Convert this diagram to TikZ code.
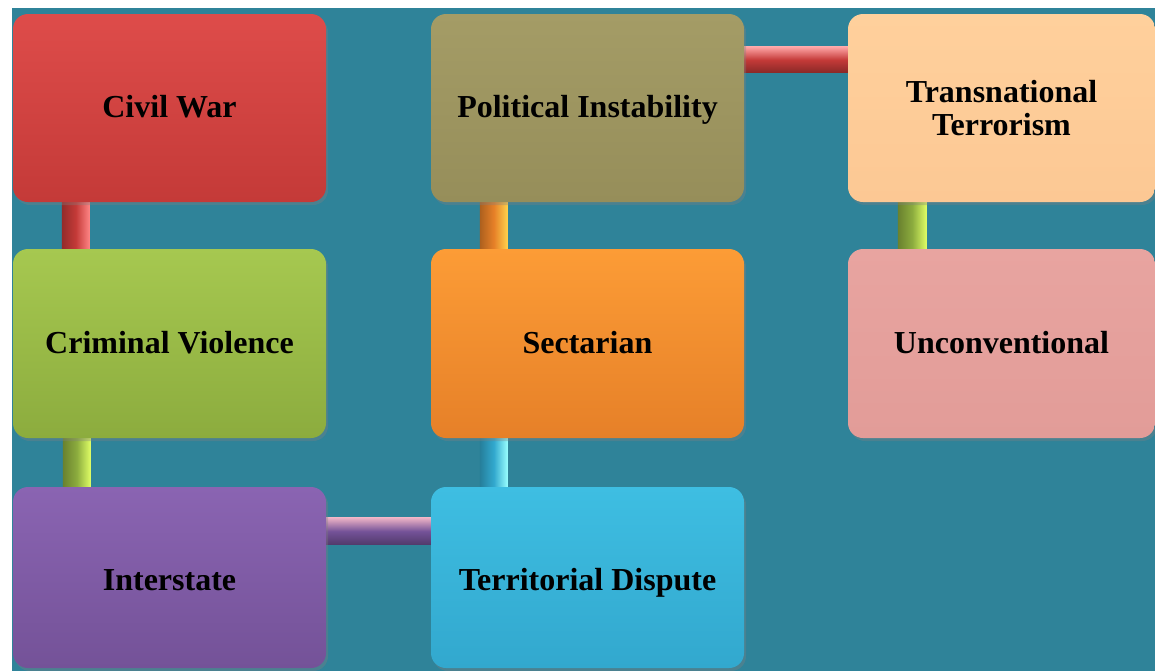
\documentclass[tikz,border=0pt]{standalone}
\usepackage{fontspec}
\setmainfont{Liberation Serif}
\usetikzlibrary{calc,shadows}
\pgfdeclarelayer{back}
\pgfsetlayers{back,main}
\definecolor{bgteal}{RGB}{47,131,153}
\definecolor{redT}{RGB}{222,76,74}\definecolor{redB}{RGB}{196,58,56}
\definecolor{oliveT}{RGB}{164,156,102}\definecolor{oliveB}{RGB}{150,142,90}
\definecolor{peachT}{RGB}{255,208,156}\definecolor{peachB}{RGB}{252,200,148}
\definecolor{greenT}{RGB}{166,200,80}\definecolor{greenB}{RGB}{140,172,62}
\definecolor{orangeT}{RGB}{252,156,54}\definecolor{orangeB}{RGB}{230,128,40}
\definecolor{pinkT}{RGB}{232,164,160}\definecolor{pinkB}{RGB}{226,156,152}
\definecolor{purpleT}{RGB}{138,100,178}\definecolor{purpleB}{RGB}{116,82,152}
\definecolor{cyanT}{RGB}{62,190,226}\definecolor{cyanB}{RGB}{50,168,206}
\tikzset{
  box/.style={rounded corners=15pt, minimum width=313pt, minimum height=188pt,
    align=center, inner sep=0pt, font=\fontsize{32}{33}\selectfont\bfseries,
    drop shadow={opacity=0.35, shadow xshift=2pt, shadow yshift=-3pt}},
  oneline/.style={text height=26pt, text depth=7pt},
  lowline/.style={text height=32pt, text depth=7pt},
  tubeV/.style 2 args={left color=#1!75!black, right color=#2, middle color=#1},
  tubeH/.style 2 args={top color=#2, bottom color=#1!70!black, middle color=#1},
}
\begin{document}
\begin{tikzpicture}[x=1pt,y=-1pt]
\useasboundingbox (0,0) rectangle (1155,670);
\begin{pgfonlayer}{back}
\fill[white] (0,0) rectangle (1155,670);
\fill[bgteal] (12,8) rectangle (1160,675);
\end{pgfonlayer}
\path
 (169.5,108) node[box, oneline, top color=redT, bottom color=redB] (cw) {Civil War}
 (587.5,108) node[box, oneline, top color=oliveT, bottom color=oliveB] (pi) {Political Instability}
 (1001.5,108) node[box, minimum width=307pt, top color=peachT, bottom color=peachB] (tt) {Transnational\\Terrorism}
 (169.5,343.5) node[box, oneline, minimum height=189pt, top color=greenT, bottom color=greenB] (cv) {Criminal Violence}
 (587.5,343.5) node[box, oneline, minimum height=189pt, top color=orangeT, bottom color=orangeB] (sc) {Sectarian}
 (1001.5,343.5) node[box, oneline, minimum width=307pt, minimum height=189pt, top color=pinkT, bottom color=pinkB] (un) {Unconventional}
 (169.5,577.5) node[box, lowline, minimum height=181pt, top color=purpleT, bottom color=purpleB] (is) {Interstate}
 (587.5,577.5) node[box, lowline, minimum height=181pt, top color=cyanT, bottom color=cyanB] (td) {Territorial Dispute};
\begin{pgfonlayer}{back}
\fill[tubeV={redB}{red!30!pink}] ($(cw.south west)+(49,-2)$) rectangle ($(cv.north west)+(77,2)$);
\fill[tubeV={greenB}{green!20!yellow!60!white}] ($(cv.south west)+(50,-2)$) rectangle ($(is.north west)+(78,2)$);
\fill[tubeH={purpleB}{purple!30!white}] ($(is.north east)+(-2,31)$) rectangle ($(td.north west)+(2,58)$);
\fill[tubeV={cyanB}{cyan!40!white}] ($(td.north west)+(49,2)$) rectangle ($(sc.south west)+(77,-2)$);
\fill[tubeV={orangeB}{orange!50!yellow!70!white}] ($(sc.north west)+(49,2)$) rectangle ($(pi.south west)+(77,-2)$);
\fill[tubeH={redB}{red!35!white}] ($(pi.north east)+(-2,33)$) rectangle ($(tt.north west)+(2,59)$);
\fill[tubeV={greenB}{green!20!yellow!60!white}] ($(tt.south west)+(50,-2)$) rectangle ($(un.north west)+(79,2)$);
\end{pgfonlayer}
\end{tikzpicture}
\end{document}
